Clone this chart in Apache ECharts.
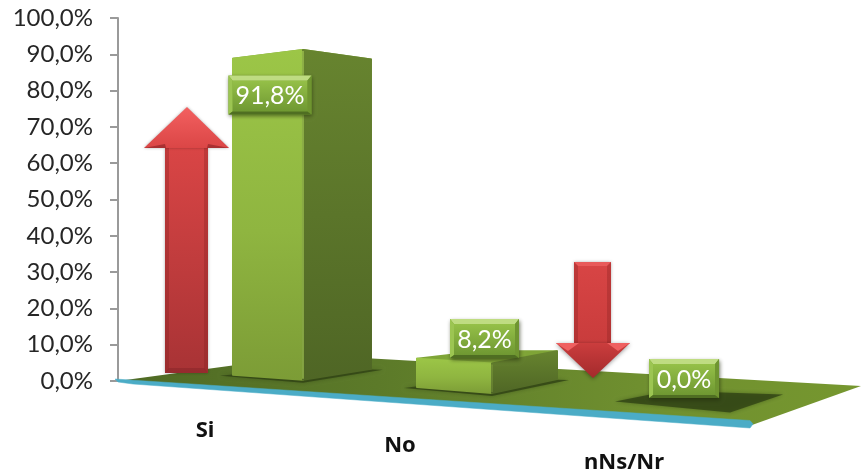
<!DOCTYPE html>
<html>
<head>
<meta charset="utf-8">
<style>html,body{margin:0;padding:0;background:#fff}#c{width:861px;height:474px}</style>
<script src="https://cdn.jsdelivr.net/npm/echarts@6/dist/echarts.min.js"></script>
</head>
<body>
<div id="c"></div>
<script>
// ---- data ----
const categories = ['Si', 'No', 'nNs/Nr'];
const percentages = [91.8, 8.2, 0.0];

// ---- layout of the perspective drawing (pixels relative to a bar's front corner) ----
const footprint = [
  { l: 70, ly: 5, r: 68, ry: 11 },
  { l: 75, ly: 6, r: 65, ry: 14 },
  { l: 102, ly: 9, r: 41, ry: 16 }
];
const labelBox = [
  { dx: -33, dy: 45, w: 83 },
  { dx: -7.5, dy: -25, w: 69 },
  { dx: -46, dy: -31, w: 70 }
];
const catLabel = [
  { dx: -98, dy: 51 },
  { dx: -92, dy: 53 },
  { dx: -106, dy: 53 }
];
const FONT = 'Lato, "Open Sans", sans-serif';
const fmt = v => v.toFixed(1).replace('.', ',') + '%';
const lin = (x, y, x2, y2, stops) => ({
  type: 'linear', x, y, x2, y2, global: false,
  colorStops: stops.map(s => ({ offset: s[0], color: s[1] }))
});
const poly = (points, style, z2) => ({ type: 'polygon', shape: { points }, style, z2: z2 || 0 });

// floor perspective: bars spread wider towards the near (right) end of the floor
function corner(api, i, value) {
  const p0 = api.coord([i, 0]);
  const p1 = api.coord([i, value]);
  const mid = api.coord([1, 0])[0];
  const t = p0[0] - mid;
  const x = 492 + 1.0104 * t + 0.000549 * t * t;
  const base = p0[1] + 0.0694 * (x - 118) - 14;
  return { x, base, h: (p0[1] - p1[1]) * 0.99 };
}

function renderBar(params, api) {
  const i = api.value(0), v = api.value(1);
  const c = corner(api, i, v);
  const f = footprint[i], L = labelBox[i];
  const kids = [];
  const cx = c.x, b = c.base, h = c.h;
  // ground shadow
  kids.push(poly([
    [cx - f.l - 13, b - f.ly + 1],
    [cx, b + 3],
    [cx + f.r + 12, b - f.ry + 1],
    [cx + f.r - f.l, b - (f.ly + f.ry) * 0.75]
  ], { fill: 'rgba(48,66,20,0.8)', shadowBlur: 4, shadowColor: 'rgba(48,66,20,0.6)' }));
  if (h > 0.5) {
    const topL = [cx - f.l, b - f.ly - h * 0.958];
    const topR = [cx + f.r, b - f.ry - h * 0.938];
    const topB = [cx + f.r - f.l, b - (f.ly + f.ry) * 0.75 - h * 0.91];
    const front = [[cx - f.l, b - f.ly], [cx, b], [cx, b - h], topL];
    const side = [[cx, b], [cx + f.r, b - f.ry], topR, [cx, b - h]];
    const frontFill = lin(0, 0, 0, 1, [[0, '#9cc647'], [0.55, '#8fb540'], [1, '#7c9c36']]);
    const sideFill = lin(0, 0, 0, 1, [[0, '#67842f'], [1, '#4f6625']]);
    kids.push(poly([topL, [cx, b - h], topR, topB], { fill: '#7fa537', stroke: '#7fa537', lineWidth: 2, lineJoin: 'round' }));
    kids.push(poly(front, { fill: frontFill, stroke: frontFill, lineWidth: 2, lineJoin: 'round' }));
    kids.push(poly(side, { fill: sideFill, stroke: sideFill, lineWidth: 2, lineJoin: 'round' }));
    kids.push({ type: 'line', shape: { x1: cx, y1: b - h + 1, x2: cx, y2: b - 1 },
      style: { stroke: i === 0 ? 'rgba(178,216,92,0.7)' : 'rgba(178,216,92,0.25)', lineWidth: 1.5 } });
  }
  // value label: a bevelled box
  const bx = cx + L.dx - L.w / 2, by = b - h + L.dy - 19.5, bw = L.w, bh = 39;
  const s = 4, tp = 5, bt = 3;
  kids.push(poly([[bx, by], [bx + bw, by], [bx + bw, by + bh], [bx, by + bh]], {
    fill: '#76a031', shadowBlur: 4, shadowOffsetX: 1, shadowOffsetY: 2, shadowColor: 'rgba(30,40,10,0.6)'
  }, 5));
  const inner = [[bx + s, by + tp], [bx + bw - s, by + tp], [bx + bw - s, by + bh - bt], [bx + s, by + bh - bt]];
  kids.push(poly(inner, { fill: lin(0, 0, 0, 1, [[0, '#95c048'], [1, '#6f9832']]) }, 6));
  kids.push(poly([[bx, by], [bx + bw, by], inner[1], inner[0]], { fill: '#bfdc82' }, 7));
  kids.push(poly([[bx, by], inner[0], inner[3], [bx, by + bh]], { fill: '#9cc552' }, 7));
  kids.push(poly([[bx + bw, by], inner[1], inner[2], [bx + bw, by + bh]], { fill: '#6f9530' }, 7));
  kids.push(poly([[bx, by + bh], inner[3], inner[2], [bx + bw, by + bh]], { fill: '#4f6e22' }, 7));
  kids.push({ type: 'text', z2: 9, style: {
    text: fmt(v), x: bx + bw / 2, y: by + bh / 2 + 1, align: 'center', verticalAlign: 'middle',
    fill: '#ffffff', font: '400 25px ' + FONT
  } });
  // category name, following the slanted front edge
  const C = catLabel[i];
  kids.push({ type: 'text', z2: 9, style: {
    text: api.value(2), x: cx + C.dx, y: b + C.dy, align: 'center', verticalAlign: 'middle',
    fill: '#111111', font: '700 22px "Noto Sans", "Open Sans", sans-serif'
  } });
  return { type: 'group', children: kids };
}

function renderFloor(params, api) {
  const g = params.coordSys;
  const x0 = g.x, y0 = g.y + g.height;
  const fl = [[x0, y0], [x0 + 634, y0 + 44], [x0 + 743, y0 + 5], [x0 + 192, y0 - 26]];
  const stripe = [[-3, -2], [632, 39.5], [635, 43], [632, 47], [15, 3], [0, 1]].map(p => [x0 + p[0], y0 + p[1]]);
  return { type: 'group', children: [
    poly(fl, { fill: lin(0, 0, 1, 0, [[0, '#4f6a24'], [0.35, '#5c7a29'], [0.7, '#6f8f2f'], [1, '#76972f']]) }),
    poly(stripe, { fill: '#4bacc6', stroke: '#4bacc6', lineWidth: 0.5, lineJoin: 'round' })
  ] };
}

const chart = echarts.init(document.getElementById('c'), null, { renderer: 'canvas' });
chart.setOption({
  animation: false,
  backgroundColor: '#ffffff',
  grid: { left: 118, top: 18, width: 634, height: 363, containLabel: false },
  xAxis: { type: 'category', data: categories, show: false },
  yAxis: {
    type: 'value', min: 0, max: 100, interval: 10,
    axisLine: { show: true, lineStyle: { color: '#9a9a9a', width: 2 } },
    axisTick: { show: true, length: 8, lineStyle: { color: '#9a9a9a', width: 2 } },
    splitLine: { show: false },
    axisLabel: { formatter: v => fmt(v), fontFamily: 'Lato, sans-serif', fontSize: 24, color: '#262626', margin: 25, padding: [3, 0, 0, 0] }
  },
  series: [
    { type: 'custom', coordinateSystem: 'cartesian2d', z: 2, silent: true, data: [[0, 0]], renderItem: renderFloor, clip: false },
    { type: 'custom', coordinateSystem: 'cartesian2d', z: 3, silent: true, clip: false,
      encode: { x: 0, y: 1 },
      data: categories.map((c, i) => [i, percentages[i], c]),
      renderItem: renderBar }
  ],
  graphic: { elements: [
    // up arrow beside "Si"
    { type: 'polygon', z: 20, shape: { points: [[165, 148], [208, 148], [208, 373], [165, 373]] },
      style: { fill: lin(0, 0, 0, 1, [[0, '#d94545'], [1, '#a83335']]), shadowBlur: 3, shadowColor: 'rgba(0,0,0,0.3)' } },
    { type: 'polygon', z: 21, shape: { points: [[165, 148], [169, 148], [169, 369], [165, 373]] }, style: { fill: 'rgba(130,30,30,0.3)' } },
    { type: 'polygon', z: 21, shape: { points: [[208, 148], [204, 148], [204, 369], [208, 373]] }, style: { fill: 'rgba(130,30,30,0.3)' } },
    { type: 'polygon', z: 21, shape: { points: [[165, 373], [169, 368], [204, 368], [208, 373]] }, style: { fill: 'rgba(110,25,30,0.3)' } },
    { type: 'polygon', z: 22, shape: { points: [[187, 107], [229, 148], [144, 148]] },
      style: { fill: lin(0, 0, 0, 1, [[0, '#f36060'], [1, '#db4646']]), shadowBlur: 3, shadowColor: 'rgba(0,0,0,0.3)' } },
    { type: 'polygon', z: 23, shape: { points: [[144, 148], [165, 144], [166, 148]] }, style: { fill: '#a93032' } },
    { type: 'polygon', z: 23, shape: { points: [[229, 148], [208, 144], [207, 148]] }, style: { fill: '#a93032' } },
    // down arrow beside "nNs/Nr"
    { type: 'polygon', z: 20, shape: { points: [[574, 262], [611, 262], [611, 343], [574, 343]] },
      style: { fill: lin(0, 0, 0, 1, [[0, '#d84545'], [1, '#c93c3c']]), shadowBlur: 3, shadowColor: 'rgba(0,0,0,0.3)' } },
    { type: 'polygon', z: 21, shape: { points: [[574, 262], [611, 262], [607, 266], [578, 266]] }, style: { fill: '#e85a5a' } },
    { type: 'polygon', z: 21, shape: { points: [[574, 262], [578, 266], [578, 343], [574, 343]] }, style: { fill: 'rgba(130,30,30,0.3)' } },
    { type: 'polygon', z: 21, shape: { points: [[611, 262], [607, 266], [607, 343], [611, 343]] }, style: { fill: 'rgba(130,30,30,0.3)' } },
    { type: 'polygon', z: 22, shape: { points: [[556, 343], [630, 343], [593, 378]] },
      style: { fill: lin(0, 0, 0, 1, [[0, '#cb3d3d'], [1, '#a32a2c']]), shadowBlur: 4, shadowOffsetY: 1, shadowColor: 'rgba(0,0,0,0.4)' } },
    { type: 'polygon', z: 23, shape: { points: [[556, 343], [579, 343], [568, 351]] }, style: { fill: '#ef6060' } },
    { type: 'polygon', z: 23, shape: { points: [[630, 343], [607, 343], [618, 351]] }, style: { fill: '#ef6060' } }
  ] }
});
</script>
</body>
</html>
